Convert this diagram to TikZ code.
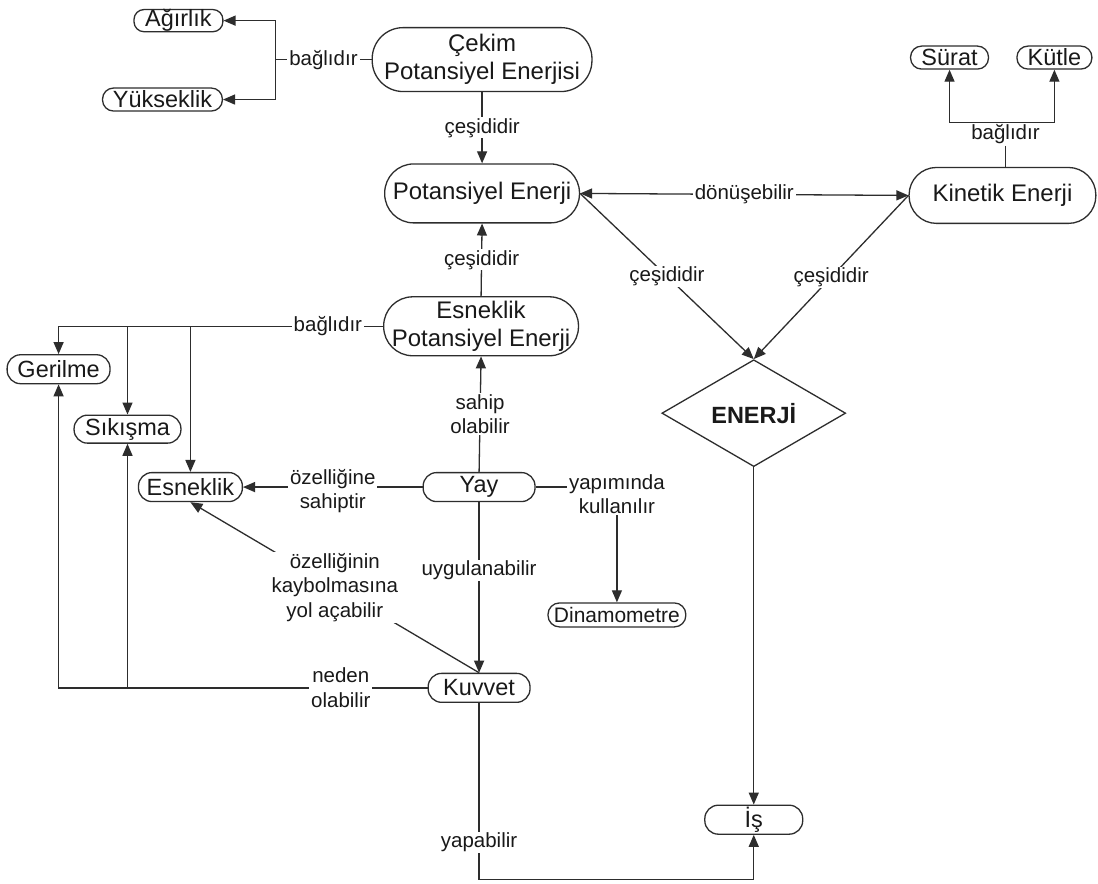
\documentclass[tikz,border=0pt]{standalone}
\usepackage{fontspec}
\setmainfont{Liberation Sans}
\usetikzlibrary{arrows.meta,shapes.geometric}
\definecolor{ink}{RGB}{25,25,25}
\definecolor{wire}{RGB}{45,45,45}
\begin{document}
\begin{tikzpicture}[x=1pt,y=-1pt,
  every path/.style={line width=1.3pt, draw=wire},
  tip/.style={-{Triangle[length=12pt,width=10pt]}},
  tips/.style={{Triangle[length=12pt,width=10pt]}-{Triangle[length=12pt,width=10pt]}},
  big/.style={draw=wire, rounded corners=29pt, align=center, inner sep=0pt, text=ink,
    font=\fontsize{24}{28}\selectfont},
  small/.style={draw=wire, rounded corners=13.5pt, inner sep=0pt, text=ink,
    font=\fontsize{23.5}{26}\selectfont},
  lab/.style={fill=white, inner xsep=2pt, inner ysep=1pt, align=center, text=ink,
    font=\fontsize{20.5}{24.5}\selectfont},
]
\useasboundingbox (0,0) rectangle (1098,883);
\fill[white] (0,0) rectangle (1098,883);

% nodes
\node[big, minimum width=220pt, minimum height=64pt, rounded corners=31pt] (cekim) at (482,59) {Çekim\\Potansiyel Enerjisi};
\node[small, minimum width=89pt, minimum height=21pt, rounded corners=10pt] (agirlik) at (178,20) {Ağırlık};
\node[small, minimum width=120pt, minimum height=23pt, rounded corners=11pt] (yukseklik) at (162,99) {Yükseklik};
\node[big, minimum width=195pt, minimum height=59pt] (pe) at (482,193) {Potansiyel Enerji};
\node[big, minimum width=187pt, minimum height=56pt, rounded corners=27.5pt] (ke) at (1003,195) {Kinetik Enerji};
\node[small, minimum width=78pt, minimum height=23pt, rounded corners=11pt] (surat) at (950,57) {Sürat};
\node[small, minimum width=75pt, minimum height=23pt, rounded corners=11pt] (kutle) at (1055,57) {Kütle};
\node[big, minimum width=195pt, minimum height=59pt] (epe) at (481,326) {Esneklik\\Potansiyel Enerji};
\node[small, minimum width=103pt, minimum height=29pt] (gerilme) at (58,369) {Gerilme};
\node[small, minimum width=107pt, minimum height=28pt] (sikisma) at (127,429) {Sıkışma};
\node[small, minimum width=104pt, minimum height=29pt] (esneklik) at (190,487) {Esneklik};
\node[small, minimum width=112pt, minimum height=29pt] (yay) at (479,487) {Yay};
\node[small, minimum width=138pt, minimum height=24pt, rounded corners=11.5pt,
  font=\fontsize{21}{24}\selectfont] (dinamo) at (617,615) {Dinamometre};
\node[small, minimum width=102pt, minimum height=29pt] (kuvvet) at (479,688) {Kuvvet};
\node[draw=wire, diamond, aspect=1.72, minimum width=184pt, minimum height=107pt,
  inner sep=0pt, text=ink, font=\fontsize{23.5}{28}\selectfont\bfseries] (enerji) at (754,413) {ENERJİ};
\node[small, minimum width=98pt, minimum height=29pt] (is) at (754,820) {İş};

\coordinate (jc) at (275,59);
\coordinate (jk) at (1006,122);
\coordinate (bot) at (0,880);

% connectors
\draw (cekim.west) -- node[lab] (l1) {bağlıdır} (jc);
\draw[tip] (jc) |- (agirlik.east);
\draw[tip] (jc) |- (yukseklik.east);

\draw[tip] (cekim.south) -- node[lab] (l2) {çeşididir} (pe.north);
\draw[tips] (pe.east) -- node[lab] (l3) {dönüşebilir} (ke.west);

\draw[tip] (jk) -| (surat.south);
\draw[tip] (jk) -| (kutle.south);
\node[lab] (lk) at (1006,134) {bağlıdır};
\draw (lk.south) -- (lk.south |- ke.north);

\draw[tip] (epe.north) -- node[lab] (l4) {çeşididir} (pe.south);
\draw[tip] (pe.east) -- node[lab] (l5) {çeşididir} (enerji.north);
\draw[tip] (ke.west) -- node[lab] (l6) {çeşididir} (enerji.north);
\draw[tip] (enerji.south) -- (is.north);

\draw[tip] (epe.west) -- node[lab, pos=0.17] (l7) {bağlıdır} (gerilme.north |- epe.west) -- (gerilme.north);
\draw[tip] (sikisma.north |- epe.west) -- (sikisma.north);
\draw[tip] (esneklik.north |- epe.west) -- (esneklik.north);

\draw[tip] (yay.north) -- node[lab] (l8) {sahip\\olabilir} (epe.south);
\draw[tip] (yay.west) -- node[lab, yshift=-4pt] (l9) {özelliğine\\sahiptir} (esneklik.east);
\draw[tip] (yay.east) -| node[lab, pos=0.5, yshift=-7pt] (l10) {yapımında\\kullanılır} (dinamo.north);
\draw[tip] (yay.south) -- node[lab, pos=0.4] (l11) {uygulanabilir} (kuvvet.north);
\draw[tip] (kuvvet.north) -- node[lab] (l12) {özelliğinin\\kaybolmasına\\yol açabilir} (esneklik.south);

\draw[tip] (kuvvet.west) -- node[lab, pos=0.235] (l13) {neden\\olabilir} (gerilme.south |- kuvvet.west) -- (gerilme.south);
\draw[tip] (sikisma.south |- kuvvet.west) -- (sikisma.south);

\draw[tip] (kuvvet.south) -- node[lab, pos=0.79] (l14) {yapabilir} (kuvvet.south |- bot) -| (is.south);
\end{tikzpicture}
\end{document}
